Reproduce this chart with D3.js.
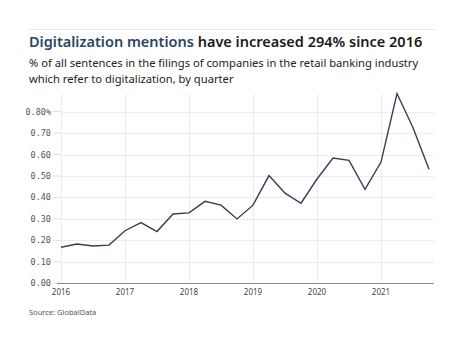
<!DOCTYPE html>
<html><head><meta charset="utf-8">
<script src="https://cdn.jsdelivr.net/npm/d3@7"></script>
<style>body{margin:0;background:#fff}svg{display:block}</style>
</head><body><svg id="c" width="464" height="348"></svg>
<script>
const quarters = ["2016Q1","2016Q2","2016Q3","2016Q4","2017Q1","2017Q2","2017Q3","2017Q4","2018Q1","2018Q2","2018Q3","2018Q4","2019Q1","2019Q2","2019Q3","2019Q4","2020Q1","2020Q2","2020Q3","2020Q4","2021Q1","2021Q2","2021Q3","2021Q4"];
const values = [0.168,0.183,0.174,0.178,0.245,0.283,0.241,0.323,0.328,0.382,0.364,0.300,0.364,0.502,0.420,0.373,0.486,0.584,0.573,0.438,0.565,0.884,0.725,0.531];
const yTicks = [0,0.1,0.2,0.3,0.4,0.5,0.6,0.7,0.8];
const yearLabels = ["2016","2017","2018","2019","2020","2021"];

const svg = d3.select("#c");
const L = 61, R = 434, T = 94, B = 283.3;
const x = d3.scaleLinear().domain([0, 23.2]).range([L, L + 23.2*16]);
const y = d3.scaleLinear().domain([0, 0.882]).range([B, T]);

svg.append("line").attr("x1",29).attr("x2",435).attr("y1",29.5).attr("y2",29.5).attr("stroke","#e6e6e6");

const title = svg.append("text").attr("x",29).attr("y",47).attr("font-family","'Noto Sans', sans-serif").attr("font-size",14.5).attr("font-weight",600);
title.append("tspan").attr("fill","#2b4665").text("Digitalization mentions");
title.append("tspan").attr("fill","#1a1a1a").text(" have increased 294% since 2016");
svg.append("text").attr("x",29).attr("y",67).attr("font-family","'Noto Sans', sans-serif").attr("font-size",11.2).attr("fill","#222").text("% of all sentences in the filings of companies in the retail banking industry");
svg.append("text").attr("x",29).attr("y",82.5).attr("font-family","'Noto Sans', sans-serif").attr("font-size",11.2).attr("fill","#222").text("which refer to digitalization, by quarter");

// grid
svg.append("g").selectAll("line").data(yTicks.slice(1)).join("line")
  .attr("x1",L).attr("x2",R).attr("y1",d=>Math.round(y(d))+0.5).attr("y2",d=>Math.round(y(d))+0.5)
  .attr("stroke","#ececec");
svg.append("g").selectAll("line").data(yearLabels).join("line")
  .attr("x1",(d,i)=>Math.round(x(i*4))+0.5).attr("x2",(d,i)=>Math.round(x(i*4))+0.5)
  .attr("y1",T).attr("y2",B).attr("stroke","#ececec");

// y labels
svg.append("g").selectAll("text").data(yTicks).join("text")
  .attr("x",51).attr("y",d=>y(d)+3).attr("text-anchor","end")
  .attr("font-family","'DejaVu Sans Mono', monospace").attr("font-size",8.5).attr("fill","#555")
  .text(d=> d===0.8 ? d3.format(".2f")(d)+"%" : d3.format(".2f")(d));
svg.append("g").selectAll("line").data(yTicks).join("line")
  .attr("x1",53).attr("x2",L).attr("y1",d=>y(d)).attr("y2",d=>y(d)).attr("stroke","#ddd");

// x axis
svg.append("line").attr("x1",L-4).attr("x2",R).attr("y1",Math.round(B)+0.5).attr("y2",Math.round(B)+0.5).attr("stroke","#888");
svg.append("g").selectAll("text").data(yearLabels).join("text")
  .attr("x",(d,i)=>x(i*4)).attr("y",295).attr("text-anchor","middle")
  .attr("font-family","'Noto Sans', sans-serif").attr("font-size",8).attr("fill","#444").text(d=>d);

// line
svg.append("path").datum(values)
  .attr("d", d3.line().x((d,i)=>x(i)).y(d=>y(d)))
  .attr("fill","none").attr("stroke","#2f4156").attr("stroke-width",1.4).attr("stroke-linejoin","miter");

svg.append("text").attr("x",29).attr("y",315).attr("font-family","'Noto Sans', sans-serif").attr("font-size",7.5).attr("fill","#555").text("Source: GlobalData");
</script></body></html>
